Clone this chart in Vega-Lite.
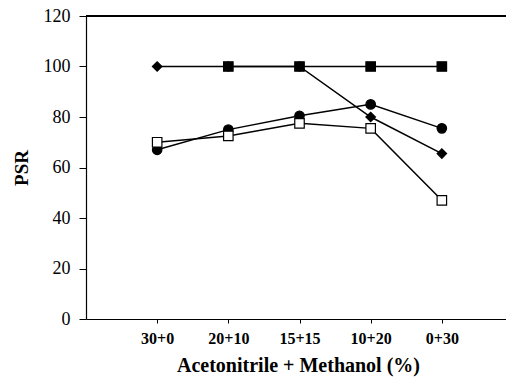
{
  "$schema": "https://vega.github.io/schema/vega-lite/v6.json",
  "width": 427,
  "height": 303,
  "autosize": {"type": "none"},
  "padding": {"left": 86, "top": 16, "right": -7, "bottom": 61},
  "background": "white",
  "config": {"view": {"stroke": null}},
  "data": {"values": [
    {"mix": "30+0", "series": "A", "psr": 100},
    {"mix": "20+10", "series": "A", "psr": 100},
    {"mix": "15+15", "series": "A", "psr": 100},
    {"mix": "10+20", "series": "A", "psr": 80},
    {"mix": "0+30", "series": "A", "psr": 65.5},
    {"mix": "20+10", "series": "B", "psr": 100},
    {"mix": "15+15", "series": "B", "psr": 100},
    {"mix": "10+20", "series": "B", "psr": 100},
    {"mix": "0+30", "series": "B", "psr": 100},
    {"mix": "30+0", "series": "C", "psr": 67},
    {"mix": "20+10", "series": "C", "psr": 75},
    {"mix": "15+15", "series": "C", "psr": 80.5},
    {"mix": "10+20", "series": "C", "psr": 85},
    {"mix": "0+30", "series": "C", "psr": 75.5},
    {"mix": "30+0", "series": "D", "psr": 70},
    {"mix": "20+10", "series": "D", "psr": 72.5},
    {"mix": "15+15", "series": "D", "psr": 77.5},
    {"mix": "10+20", "series": "D", "psr": 75.5},
    {"mix": "0+30", "series": "D", "psr": 47}
  ]},
  "encoding": {
    "x": {
      "field": "mix", "type": "ordinal",
      "sort": ["30+0", "20+10", "15+15", "10+20", "0+30"],
      "scale": {"type": "point", "padding": 1},
      "axis": {
        "title": "Acetonitrile + Methanol (%)",
        "titleX": 212,
        "labelAngle": 0,
        "labelFont": "Liberation Serif", "labelFontSize": 16, "labelFontWeight": "bold", "labelColor": "black",
        "labelPadding": 7,
        "titleFont": "Liberation Serif", "titleFontSize": 20, "titleFontWeight": "bold", "titleColor": "black",
        "titlePadding": 9,
        "domainColor": "black", "domainWidth": 1.2,
        "tickColor": "black", "tickSize": 4, "grid": false
      }
    },
    "y": {
      "field": "psr", "type": "quantitative",
      "scale": {"domain": [0, 120], "nice": false},
      "axis": {
        "title": "PSR",
        "values": [0, 20, 40, 60, 80, 100, 120],
        "labelFont": "Liberation Serif", "labelFontSize": 18, "labelColor": "black",
        "labelPadding": 9,
        "titleFont": "Liberation Serif", "titleFontSize": 19, "titleFontWeight": "bold", "titleColor": "black",
        "titlePadding": 12,
        "domainColor": "black", "domainWidth": 1.2,
        "tickColor": "black", "tickSize": 7, "grid": false
      }
    }
  },
  "layer": [
    {
      "mark": {"type": "rule", "color": "black", "strokeWidth": 1.2},
      "encoding": {"x": null, "y": {"datum": 120}}
    },
    {
      "mark": {"type": "line", "color": "black", "strokeWidth": 1.5},
      "encoding": {"detail": {"field": "series"}}
    },
    {
      "mark": {"type": "point", "filled": true, "size": 90, "stroke": "black", "strokeWidth": 1.2, "opacity": 1},
      "encoding": {
        "shape": {"field": "series", "scale": {"domain": ["A", "B", "C", "D"], "range": ["diamond", "square", "circle", "square"]}, "legend": null},
        "fill": {"field": "series", "scale": {"domain": ["A", "B", "C", "D"], "range": ["black", "black", "black", "white"]}, "legend": null}
      }
    }
  ]
}
